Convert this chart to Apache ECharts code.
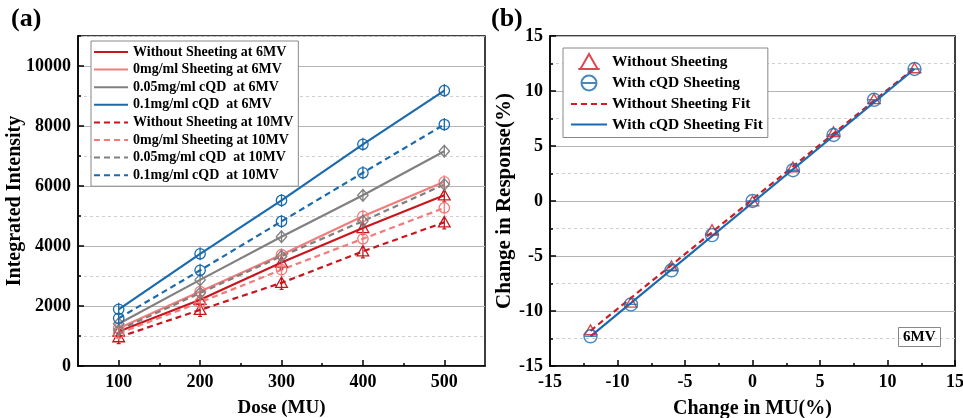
<!DOCTYPE html>
<html>
<head>
<meta charset="utf-8">
<script src="https://cdn.jsdelivr.net/npm/echarts@6/dist/echarts.min.js"></script>
<style>
  html, body { margin: 0; padding: 0; background: #fff; }
  #main { width: 963px; height: 418px; }
</style>
</head>
<body>
<div id="main"></div>
<script>
// panel (a): dose vs integrated intensity
var doses = [100, 200, 300, 400, 500];
var none6 = [1150, 2210, 3450, 4600, 5690];
var zero6 = [1260, 2480, 3710, 4990, 6140];
var cqd005_6 = [1410, 2870, 4310, 5690, 7160];
var cqd01_6 = [1890, 3740, 5520, 7390, 9180];
var none10 = [960, 1870, 2770, 3820, 4790];
var zero10 = [1090, 2120, 3210, 4240, 5270];
var cqd005_10 = [1200, 2430, 3660, 4830, 6050];
var cqd01_10 = [1590, 3190, 4820, 6440, 8050];
var doseLabels = [100, 200, 300, 400, 500];
var doseMinor = [150, 250, 350, 450];

// panel (b): change in MU vs change in response
var muChange = [-12, -9, -6, -3, 0, 3, 6, 9, 12];
var respNone = [-11.7, -9.2, -5.9, -2.6, 0, 3.1, 6.3, 9.3, 12.1];
var respCqd = [-12.3, -9.4, -6.3, -3.1, 0, 2.8, 6.0, 9.2, 12.0];
var fitX = [-12, 12];
var fitNone = [-11.8, 12.1];
var fitCqd = [-12.3, 12.0];

var FONT = '"Liberation Serif", "Times New Roman", serif';
var RED = '#c8161d', PINK = '#f27b7b', GRAY = '#808080', BLUE = '#1a6aad';
var RED_B = '#d01c22', BLUE_B = '#1a6aad';

// hollow markers with a bar through them
var SYM_CIRCLE_V = 'path://M2,10 A8,8 0 1,1 18,10 A8,8 0 1,1 2,10 Z M10,0 L10,20';
var SYM_TRI_V = 'path://M10,1 L19,17 L1,17 Z M10,0 L10,20 M7,20 L13,20';
var SYM_DIA_V = 'path://M10,1 L18,10 L10,19 L2,10 Z M10,0 L10,20';
var SYM_CIRCLE_H = 'path://M2,10 A8,8 0 1,1 18,10 A8,8 0 1,1 2,10 Z M2,10 L18,10';
var SYM_TRI_H = 'path://M10,1 L18,15 L2,15 Z M0,15 L20,15';

function pairs(xs, ys) {
  return xs.map(function (x, i) { return [x, ys[i]]; });
}

function doseLine(name, ys, color, dashed, symbol) {
  return {
    name: name,
    type: 'line',
    xAxisIndex: 0,
    yAxisIndex: 0,
    data: pairs(doses, ys),
    symbol: symbol,
    symbolSize: 13,
    symbolKeepAspect: true,
    lineStyle: { color: color, width: 2.2, type: dashed ? [6, 4] : 'solid' },
    itemStyle: { color: 'rgba(0,0,0,0)', borderColor: color, borderWidth: 1.3 },
    z: 3
  };
}

var labelStyle = { color: '#000', fontFamily: FONT, fontWeight: 'bold', fontSize: 18 };
function nameStyle(size) {
  return { color: '#000', fontFamily: FONT, fontWeight: 'bold', fontSize: size };
}

var legendA = [
  'Without Sheeting at 6MV', '0mg/ml Sheeting at 6MV', '0.05mg/ml cQD  at 6MV', '0.1mg/ml cQD  at 6MV',
  'Without Sheeting at 10MV', '0mg/ml Sheeting at 10MV', '0.05mg/ml cQD  at 10MV', '0.1mg/ml cQD  at 10MV'
];

var option = {
  animation: false,
  backgroundColor: '#fff',
  title: [
    { text: '(a)', left: 6, top: 1, textStyle: { fontFamily: FONT, fontWeight: 'bold', fontSize: 26, color: '#000' } },
    { text: '(b)', left: 486, top: 1, textStyle: { fontFamily: FONT, fontWeight: 'bold', fontSize: 26, color: '#000' } },
    {
      text: '6MV', left: 898, top: 327, padding: [3, 5, 2, 5], borderColor: '#888', borderWidth: 1,
      textStyle: { fontFamily: FONT, fontWeight: 'bold', fontSize: 15, color: '#000' }
    }
  ],
  grid: [
    { left: 78, top: 36, width: 407, height: 330, outerBoundsMode: 'none', containLabel: false, show: true, borderColor: '#000', borderWidth: 1.5, backgroundColor: 'transparent' },
    { left: 550, top: 36, width: 405, height: 330, outerBoundsMode: 'none', containLabel: false, show: true, borderColor: '#000', borderWidth: 1.5, backgroundColor: 'transparent' }
  ],
  legend: [
    {
      data: legendA,
      orient: 'vertical',
      left: 91, top: 41,
      padding: [4, 5, 4, 2],
      itemWidth: 34, itemHeight: 14, itemGap: 3.6,
      borderColor: '#888', borderWidth: 1, backgroundColor: '#fff',
      itemStyle: { opacity: 0 },
      textStyle: { fontFamily: FONT, fontWeight: 'bold', fontSize: 14, color: '#000' }
    },
    {
      data: [
        { name: 'Without Sheeting' },
        { name: 'With cQD Sheeting' },
        { name: 'Without Sheeting Fit', itemStyle: { opacity: 0 } },
        { name: 'With cQD Sheeting Fit', itemStyle: { opacity: 0 } }
      ],
      orient: 'vertical',
      left: 563, top: 48,
      padding: [5, 5, 5, 7],
      itemWidth: 36, itemHeight: 15, itemGap: 4.5,
      borderColor: '#888', borderWidth: 1, backgroundColor: '#fff',
      textStyle: { fontFamily: FONT, fontWeight: 'bold', fontSize: 15.5, color: '#000' }
    }
  ],
  xAxis: [
    {
      gridIndex: 0, type: 'value', position: 'bottom', min: 50, max: 550,
      name: 'Dose (MU)', nameLocation: 'middle', nameGap: 33, nameTextStyle: nameStyle(19),
      axisLine: { show: true, lineStyle: { color: '#000', width: 1.5 } },
      axisTick: { show: true, inside: true, length: 6, customValues: doseLabels, lineStyle: { color: '#000', width: 1.5 } },
      axisLabel: Object.assign({ customValues: doseLabels, margin: 7 }, labelStyle),
      splitLine: { show: false }
    },
    {
      gridIndex: 0, type: 'value', position: 'bottom', min: 50, max: 550,
      axisLine: { show: false },
      axisTick: { show: true, inside: true, length: 3, customValues: doseMinor, lineStyle: { color: '#000', width: 1.5 } },
      axisLabel: { show: false },
      splitLine: { show: false }
    },
    {
      gridIndex: 1, type: 'value', position: 'bottom', min: -15, max: 15, interval: 5,
      name: 'Change in MU(%)', nameLocation: 'middle', nameGap: 33, nameTextStyle: nameStyle(20),
      axisLine: { show: true, onZero: false, lineStyle: { color: '#000', width: 1.5 } },
      axisTick: { show: true, inside: true, length: 6, lineStyle: { color: '#000', width: 1.5 } },
      minorTick: { show: true, splitNumber: 2, length: 3, lineStyle: { color: '#000', width: 1.5 } },
      axisLabel: Object.assign({ margin: 7 }, labelStyle),
      splitLine: { show: false }
    }
  ],
  yAxis: [
    {
      gridIndex: 0, type: 'value', position: 'left', min: 0, max: 11000, interval: 2000,
      name: 'Integrated Intensity', nameLocation: 'middle', nameGap: 53, nameMoveOverlap: false,
      nameTextStyle: nameStyle(20),
      axisLine: { show: true, lineStyle: { color: '#000', width: 1.5 } },
      axisTick: { show: true, inside: true, length: 6, lineStyle: { color: '#000', width: 1.5 } },
      axisLabel: Object.assign({ margin: 7, showMaxLabel: false, formatter: function (v) { return String(v); } }, labelStyle),
      splitLine: { show: true, lineStyle: { color: '#b4b4b4', width: 1.2 } }
    },
    {
      // odd thousands: short ticks and dotted grid lines
      gridIndex: 0, type: 'value', position: 'left', min: 0, max: 11000, interval: 1000,
      axisLine: { show: false },
      axisTick: { show: true, inside: true, length: 3, lineStyle: { color: '#000', width: 1.5 } },
      axisLabel: { show: false },
      splitLine: { show: true, lineStyle: { color: ['rgba(0,0,0,0)', '#cfcfcf'], width: 1, type: [3, 3] } }
    },
    {
      gridIndex: 1, type: 'value', position: 'left', min: -15, max: 15, interval: 5,
      name: 'Change in Response(%)', nameLocation: 'middle', nameGap: 27, nameTextStyle: nameStyle(21),
      axisLine: { show: true, onZero: false, lineStyle: { color: '#000', width: 1.5 } },
      axisTick: { show: true, inside: true, length: 6, lineStyle: { color: '#000', width: 1.5 } },
      minorTick: { show: true, splitNumber: 2, length: 3, lineStyle: { color: '#000', width: 1.5 } },
      axisLabel: Object.assign({ margin: 7 }, labelStyle),
      splitLine: { show: true, lineStyle: { color: '#b4b4b4', width: 1.2 } },
      minorSplitLine: { show: true, lineStyle: { color: '#cfcfcf', width: 1, type: [3, 3] } }
    }
  ],
  series: [
    doseLine(legendA[0], none6, RED, false, SYM_TRI_V),
    doseLine(legendA[1], zero6, PINK, false, SYM_CIRCLE_V),
    doseLine(legendA[2], cqd005_6, GRAY, false, SYM_DIA_V),
    doseLine(legendA[3], cqd01_6, BLUE, false, SYM_CIRCLE_V),
    doseLine(legendA[4], none10, RED, true, SYM_TRI_V),
    doseLine(legendA[5], zero10, PINK, true, SYM_CIRCLE_V),
    doseLine(legendA[6], cqd005_10, GRAY, true, SYM_DIA_V),
    doseLine(legendA[7], cqd01_10, BLUE, true, SYM_CIRCLE_V),
    {
      name: 'Without Sheeting Fit', type: 'line', xAxisIndex: 2, yAxisIndex: 2,
      data: pairs(fitX, fitNone), symbol: 'none',
      lineStyle: { color: RED_B, width: 2.2, type: [6, 4] }, itemStyle: { color: RED_B }, z: 2
    },
    {
      name: 'With cQD Sheeting Fit', type: 'line', xAxisIndex: 2, yAxisIndex: 2,
      data: pairs(fitX, fitCqd), symbol: 'none',
      lineStyle: { color: BLUE_B, width: 2.2 }, itemStyle: { color: BLUE_B }, z: 2
    },
    {
      name: 'Without Sheeting', type: 'scatter', xAxisIndex: 2, yAxisIndex: 2,
      data: pairs(muChange, respNone), symbol: SYM_TRI_H, symbolSize: 14, symbolKeepAspect: true,
      itemStyle: { color: 'rgba(0,0,0,0)', borderColor: RED_B, borderWidth: 1.4 }, z: 4
    },
    {
      name: 'With cQD Sheeting', type: 'scatter', xAxisIndex: 2, yAxisIndex: 2,
      data: pairs(muChange, respCqd), symbol: SYM_CIRCLE_H, symbolSize: 13, symbolKeepAspect: true,
      itemStyle: { color: 'rgba(0,0,0,0)', borderColor: BLUE_B, borderWidth: 1.4 }, z: 4
    }
  ]
};

var chart = echarts.init(document.getElementById('main'));
chart.setOption(option);
</script>
</body>
</html>
